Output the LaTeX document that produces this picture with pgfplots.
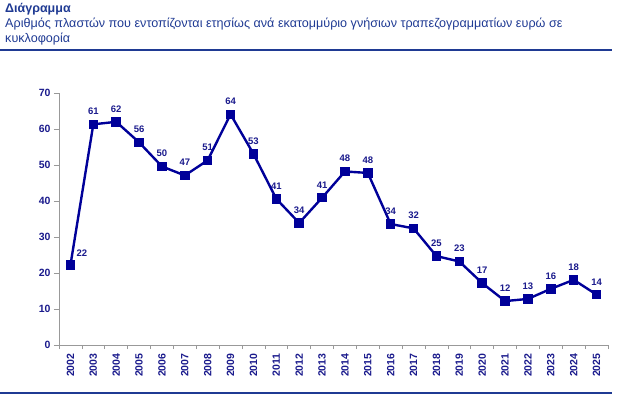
\documentclass[border=0pt]{standalone}
\usepackage{fontspec}
\setmainfont{Liberation Sans}
\usepackage{pgfplots}
\pgfplotsset{compat=1.18}
\definecolor{navy}{HTML}{000099}
\definecolor{ttl}{HTML}{1F3A93}
\definecolor{lbl}{HTML}{1A1A8C}
\pgfplotstableread{
x y lab
0 22.2 {}
1 61.3 61
2 62.0 62
3 56.3 56
4 49.6 50
5 47.1 47
6 51.3 51
7 64.1 64
8 53.1 53
9 40.6 41
10 33.9 34
11 40.9 41
12 48.2 48
13 47.8 48
14 33.6 34
15 32.4 32
16 24.7 25
17 23.2 23
18 17.2 17
19 12.2 12
20 12.8 13
21 15.6 16
22 18.1 18
23 14.0 14
}\datatable
\begin{document}
\begin{tikzpicture}
\path[use as bounding box] (0pt,0pt) rectangle (621pt,-396pt);
\node[anchor=base west, inner sep=0, text=ttl, font=\bfseries\fontsize{12.5}{14}\selectfont] at (5pt,-13pt) {Διάγραμμα};
\node[anchor=base west, inner sep=0, text=ttl, font=\fontsize{12.6}{14}\selectfont] at (5pt,-28pt) {Αριθμός πλαστών που εντοπίζονται ετησίως ανά εκατομμύριο γνήσιων τραπεζογραμματίων ευρώ σε};
\node[anchor=base west, inner sep=0, text=ttl, font=\fontsize{12.6}{14}\selectfont] at (5pt,-43pt) {κυκλοφορία};
\draw[ttl, line width=1.2pt] (0pt,-50pt) -- (612pt,-50pt);
\draw[ttl, line width=1.2pt] (0pt,-393pt) -- (612pt,-393pt);
\begin{axis}[
  at={(59pt,-345pt)}, anchor=south west,
  scale only axis, width=549pt, height=252pt,
  xmin=-0.5, xmax=23.5, ymin=0, ymax=70,
  axis x line*=bottom, axis y line*=left,
  axis line style={gray!80, line width=0.8pt, -},
  xtick={0,...,23},
  xticklabels={2002,2003,2004,2005,2006,2007,2008,2009,2010,2011,2012,2013,2014,2015,2016,2017,2018,2019,2020,2021,2022,2023,2024,2025},
  major x tick style={draw=none},
  minor xtick={-0.5,0.5,...,23.5},
  minor tick length=4pt,
  every minor tick/.style={gray!80, line width=0.6pt},
  x tick label style={rotate=90, anchor=east, font=\bfseries\fontsize{10.5}{11}\selectfont, text=lbl},
  ytick={0,10,...,70},
  y tick label style={font=\bfseries\fontsize{10.5}{11}\selectfont, text=lbl},
  /pgf/number format/assume math mode=true,
  major tick length=5pt,
  tick align=outside,
  major y tick style={gray!80, line width=0.6pt},
  clip=false,
]
\addplot[navy, line width=2.4pt, mark=square*, mark size=3.5pt, mark options={solid},
  nodes near coords, point meta=explicit symbolic,
  every node near coord/.append style={font=\bfseries\fontsize{9.5}{10}\selectfont, text=lbl, anchor=south, yshift=5pt}]
  table[x=x, y=y, meta=lab] {\datatable};
\addplot[draw=none, mark=none, nodes near coords, point meta=explicit symbolic,
  every node near coord/.append style={font=\bfseries\fontsize{9.5}{10}\selectfont, text=lbl, anchor=base west, inner sep=0pt, xshift=6pt, yshift=9pt}]
  coordinates {(0,22.2) [22]};
\end{axis}
\end{tikzpicture}
\end{document}
